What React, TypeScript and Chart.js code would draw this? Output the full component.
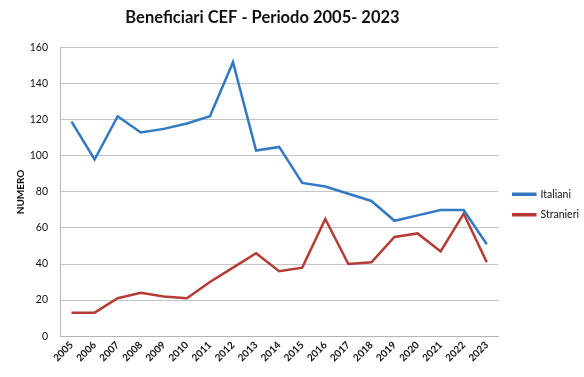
import React, { useEffect, useRef } from "react";
import { Chart, registerables } from "chart.js";

Chart.register(...registerables);

const years = ["2005","2006","2007","2008","2009","2010","2011","2012","2013","2014","2015","2016","2017","2018","2019","2020","2021","2022","2023"];
const italiani = [119, 98, 122, 113, 115, 118, 122, 152, 103, 105, 85, 83, 79, 75, 64, 67, 70, 70, 51];
const stranieri = [13, 13, 21, 24, 22, 21, 30, 38, 46, 36, 38, 65, 40, 41, 55, 57, 47, 68, 41];
const yTicks = [0, 20, 40, 60, 80, 100, 120, 140, 160];

const shiftPlugin = {
  id: "shiftBoxes",
  afterLayout(chart: any) {
    if (chart.titleBlock) {
      chart.titleBlock.left = 0;
      chart.titleBlock.right = 525;
    }
    if (chart.legend) {
      chart.legend.left += 5;
      chart.legend.right += 5;
      chart.legend.top += 19;
      chart.legend.bottom += 19;
    }
  },
};

export default function App() {
  const ref = useRef<HTMLCanvasElement>(null);
  useEffect(() => {
    if (!ref.current) return;
    const chart = new Chart(ref.current, {
      type: "line",
      data: {
        labels: years,
        datasets: [
          { label: "Italiani", data: italiani, borderColor: "#3278c2", backgroundColor: "#3278c2", borderWidth: 2.5, pointRadius: 0, tension: 0 },
          { label: "Stranieri", data: stranieri, borderColor: "#b53b34", backgroundColor: "#b53b34", borderWidth: 2.5, pointRadius: 0, tension: 0 },
        ],
      },
      plugins: [shiftPlugin],
      options: {
        animation: false,
        responsive: false,
        layout: { padding: { left: 15, right: 0, top: 4, bottom: 10 } },
        plugins: {
          title: {
            display: true,
            text: "Beneficiari CEF - Periodo 2005- 2023",
            font: { family: "Lato", size: 16.5, weight: "bold" },
            color: "#111",
            padding: { top: 4, bottom: 20 },
          },
          legend: {
            position: "right",
            labels: {
              boxWidth: 22,
              boxHeight: 1,
              padding: 10,
              color: "#111",
              font: { family: "Lato", size: 10.5 },
            },
          },
          tooltip: { enabled: false },
        },
        scales: {
          x: {
            offset: true,
            grid: { display: false, drawTicks: false },
            border: { display: true, color: "#b5b5b5", width: 1 },
            ticks: {
              maxRotation: 45,
              minRotation: 45,
              padding: 3,
              color: "#111",
              font: { family: "Lato", size: 10, weight: "bold" },
              autoSkip: false,
            },
          },
          y: {
            min: 0,
            max: 160,
            afterBuildTicks: (axis: any) => {
              axis.ticks = yTicks.map((v) => ({ value: v }));
            },
            afterFit: (axis: any) => {
              axis.width = 45;
            },
            grid: { color: "#c4c4c4", drawTicks: false },
            border: { display: true, color: "#b5b5b5" },
            ticks: {
              padding: 12,
              color: "#111",
              font: { family: "Lato", size: 10.5 },
            },
            title: {
              display: true,
              text: "NUMERO",
              color: "#111",
              font: { family: "Lato", size: 10, weight: "bold" },
              padding: { top: 0, bottom: 0 },
            },
          },
        },
      },
    });
    return () => chart.destroy();
  }, []);
  return (
    <div style={{ position: "fixed", left: 0, top: 0, width: 584, height: 377, background: "#fff" }}>
      <canvas ref={ref} width={584} height={377} />
    </div>
  );
}
